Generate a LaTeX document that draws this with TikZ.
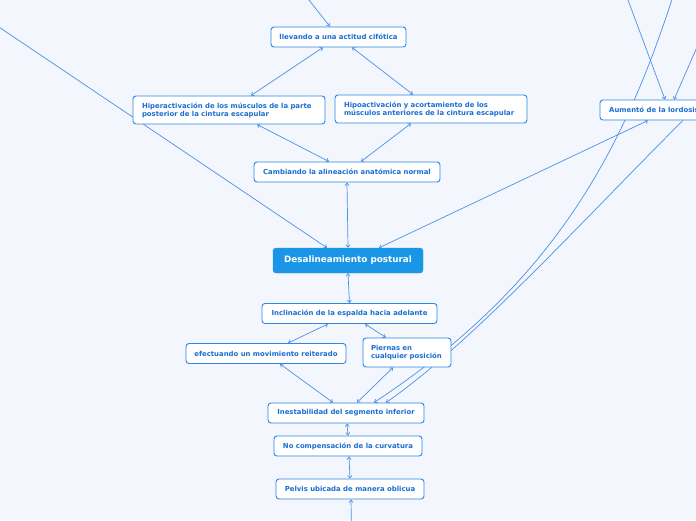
\documentclass[tikz,border=0pt]{standalone}
\usepackage{fontspec}
\setmainfont{DejaVu Sans}
\usetikzlibrary{arrows.meta,calc}
\definecolor{bg}{RGB}{243,246,253}
\definecolor{nborder}{RGB}{45,135,230}
\definecolor{ntext}{RGB}{25,110,210}
\definecolor{mainfill}{RGB}{27,150,230}
\definecolor{edgec}{RGB}{75,145,230}
\pgfdeclarelayer{background}
\pgfsetlayers{background,main}
\begin{document}
\begin{tikzpicture}[x=1pt,y=-1pt,
 box/.style={draw=nborder, fill=white, rounded corners=3pt, line width=0.9pt, text=ntext,
   font=\fontsize{6.9}{8}\selectfont\bfseries, inner sep=0pt, minimum height=20pt, align=center},
 twobox/.style={box, minimum height=28pt, align=left, inner xsep=9pt},
 mainbox/.style={fill=mainfill, draw=mainfill, rounded corners=3pt, text=white,
   font=\fontsize{8.8}{10}\selectfont\bfseries, inner sep=0pt, minimum width=150pt, minimum height=25pt},
 link/.style={draw=edgec, line width=0.7pt},
 both/.style={link, {Straight Barb[length=2.5pt,width=4pt]}-{Straight Barb[length=2.5pt,width=4pt]}},
 tohead/.style={link, -{Straight Barb[length=2.5pt,width=4pt]}},
]
\useasboundingbox (0,0) rectangle (696,520);

\node[box, minimum width=135pt] (llev) at (338.5,37) {llevando a una actitud cifótica};
\node[twobox, text width=174pt] (hiper) at (229,110) {Hiperactivación de los músculos de la parte\\posterior de la cintura escapular};
\node[twobox, text width=174pt] (hipo) at (431,109) {Hipoactivación y acortamiento de los\\músculos anteriores de la cintura escapular};
\node[box, minimum width=186pt] (camb) at (347,172) {Cambiando la alineación anatómica normal};
\node[mainbox] (desal) at (348,260.5) {Desalineamiento postural};
\node[box, minimum width=175pt] (incl) at (349.5,313.5) {Inclinación de la espalda hacia adelante};
\node[box, minimum width=160pt] (efec) at (266,353.5) {efectuando un movimiento reiterado};
\node[twobox, text width=72pt, inner xsep=8pt, minimum height=29pt] (pier) at (407,352.5) {Piernas en\\cualquier posición};
\node[box, minimum width=156pt] (inest) at (346,413) {Inestabilidad del segmento inferior};
\node[box, minimum width=148pt] (nocomp) at (348,446) {No compensación de la curvatura};
\node[box, minimum width=148pt] (pelv) at (350,489) {Pelvis ubicada de manera oblicua};
\node[box, minimum width=108pt] (aum) at (654,110) {Aumentó de la lordosis};

\coordinate (topA) at (301,-10);
\coordinate (leftA) at (-10,21);
\coordinate (topB) at (624.3,-10);
\coordinate (topC) at (722,-10);
\coordinate (topD) at (675,-10);
\coordinate (botA) at (351.5,530);

\begin{pgfonlayer}{background}
\fill[bg] (0,0) rectangle (696,520);
\draw[tohead] (topA) -- ([xshift=-8.5pt]llev.north);
\draw[both] ([xshift=-15.5pt]llev.south) -- ([xshift=22pt]hiper.north);
\draw[both] ([xshift=13.5pt]llev.south) -- ([xshift=-18pt]hipo.north);
\draw[both] ([xshift=28pt]hiper.south) -- ([xshift=-18pt]camb.north);
\draw[both] ([xshift=-20pt]hipo.south) -- ([xshift=14pt]camb.north);
\draw[both] (camb.south) -- (desal.north);
\draw[tohead] (leftA) -- ([xshift=-21pt]desal.north);
\draw[both] ([xshift=-6pt]aum.south) -- ([xshift=31pt]desal.north);
\draw[tohead] (topB) -- ([xshift=11pt]aum.north);
\draw[tohead] (topC) -- ([xshift=20pt]aum.north);
\draw[tohead] (topD) .. controls (624,150) and (555,283) .. ([xshift=28pt]inest.north);
\draw[tohead] ([xshift=29pt]aum.south) .. controls (583,220) and (472,343) .. ([xshift=40pt]inest.north);
\draw[both] (desal.south) -- (incl.north);
\draw[both] ([xshift=-21.5pt]incl.south) -- ([xshift=22pt]efec.north);
\draw[both] ([xshift=15.5pt]incl.south) -- ([xshift=-21pt]pier.north);
\draw[both] ([xshift=14pt]efec.south) -- ([xshift=-13pt]inest.north);
\draw[both] ([xshift=-14pt]pier.south) -- ([xshift=11pt]inest.north);
\draw[both] ([xshift=1pt]inest.south) -- (nocomp.north);
\draw[both] ([xshift=1pt]nocomp.south) -- (pelv.north);
\draw[tohead] (botA) -- ([xshift=1pt]pelv.south);
\end{pgfonlayer}
\end{tikzpicture}
\end{document}
